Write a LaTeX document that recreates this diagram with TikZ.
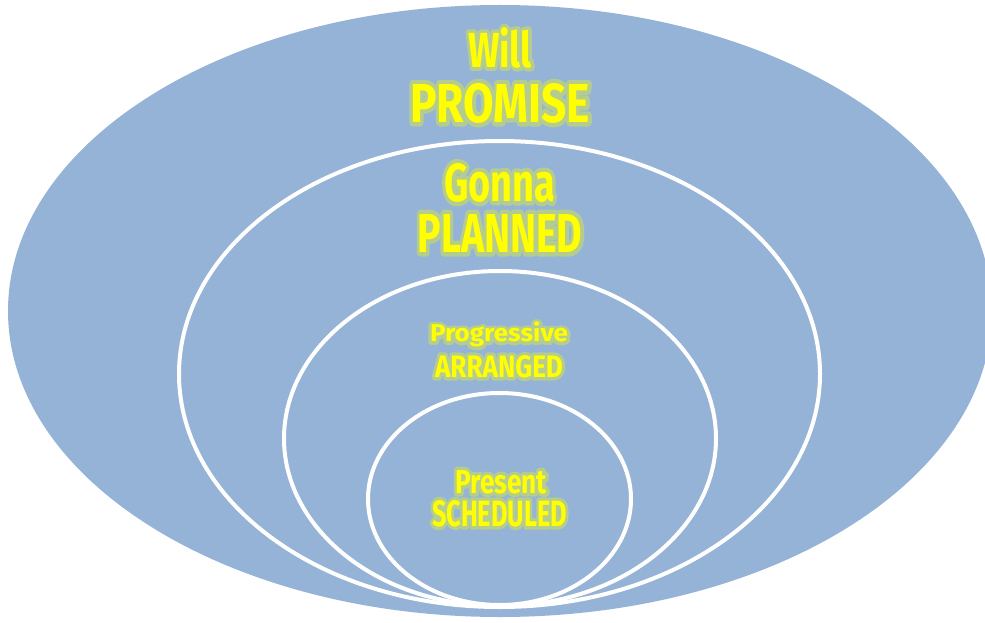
\documentclass[tikz,border=0pt]{standalone}
\usepackage{fontspec}
\usepackage{graphicx}
\setmainfont{Fira Sans}
\usetikzlibrary{shapes.geometric}
\definecolor{ringblue}{RGB}{149,179,215}
\definecolor{txtyellow}{RGB}{255,255,0}
\newcommand\glowword[2]{\leavevmode\rlap{\special{pdf:literal direct 0.71 0.80 0.56 RG #1 w 1 j 1 J 1 Tr}#2\special{pdf:literal direct 0 Tr}}#2}
\newcommand\gw[5]{\resizebox{#1pt}{#2pt}{\fontsize{#3}{#3}\selectfont\bfseries\glowword{#4}{#5}}}
\tikzset{
  ring/.style={ellipse, draw=white, line width=4pt, inner sep=0pt},
  outerring/.style={ellipse, fill=ringblue, inner sep=0pt},
  label/.style={text=txtyellow, inner sep=0pt, anchor=north}
}
\begin{document}
\begin{tikzpicture}[x=1pt,y=-1pt]
\useasboundingbox (0,0) rectangle (985,623);
\node[outerring, minimum width=984pt, minimum height=612pt] (will) at (500,311) {};
\node[ring, minimum width=641pt, minimum height=466pt] (gonna) at (499.5,374) {};
\node[ring, minimum width=432pt, minimum height=335pt] (prog) at (500,438.5) {};
\node[ring, minimum width=263pt, minimum height=212pt] (pres) at (499.5,499) {};
\node[label] (t1) at (500,27) {\gw{64}{40}{53}{8}{Will}};
\node[label] (t2) at (500,83) {\gw{180}{39}{57}{9}{PROMISE}};
\node[label] (t3) at (499.5,163) {\gw{111}{38}{55}{9}{Gonna}};
\node[label] (t4) at (500,214) {\gw{165}{38}{55}{9}{PLANNED}};
\node[label] (t5) at (499,322) {\resizebox*{138pt}{25pt}{\fontsize{27}{27}\selectfont\bfseries\glowword{7}{Progressive}}};
\node[label] (t6) at (499,355) {\gw{128}{22}{32}{7}{ARRANGED}};
\node[label] (t7) at (501,470) {\gw{92}{23}{33}{7}{Present}};
\node[label] (t8) at (499.5,500) {\gw{135}{26}{37}{7}{SCHEDULED}};
\end{tikzpicture}
\end{document}
